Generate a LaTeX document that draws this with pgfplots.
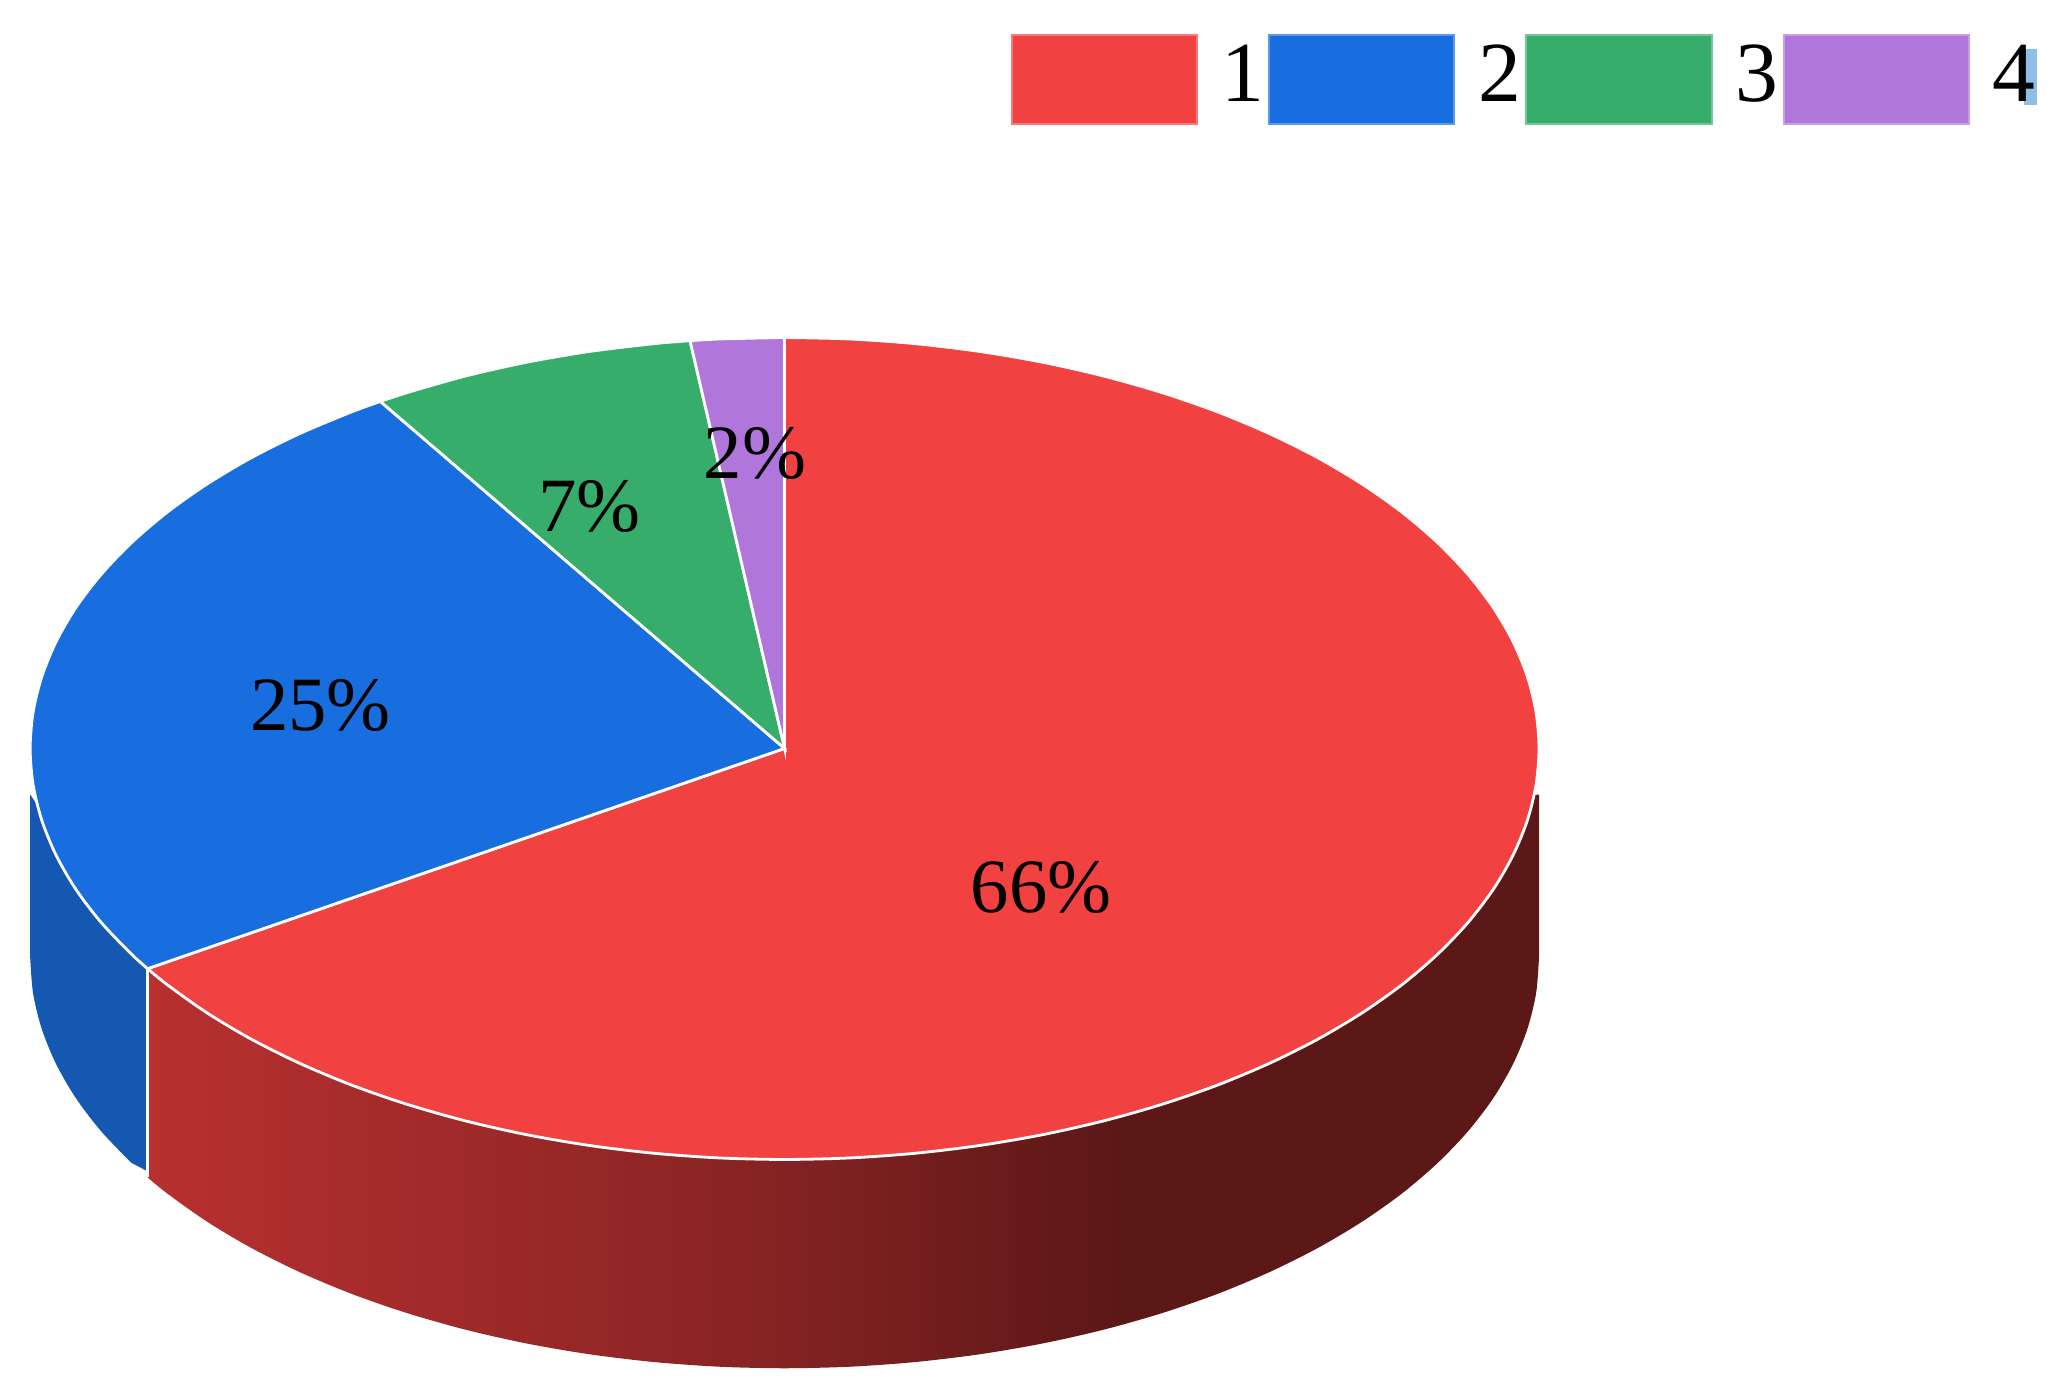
\documentclass[border=0pt]{standalone}
\usepackage{fontspec}
\setmainfont{Liberation Serif}
\usepackage{pgfplots}
\pgfplotsset{compat=1.18}
\definecolor{redc}{HTML}{F24141}
\definecolor{bluec}{HTML}{186EDF}
\definecolor{greenc}{HTML}{36AD6A}
\definecolor{purplec}{HTML}{B076DB}
\definecolor{bluewall}{HTML}{1558B2}
\definecolor{tailc}{HTML}{8FBEE8}
\definecolor{w0}{HTML}{B83030}
\definecolor{w1}{HTML}{8A2424}
\definecolor{w2}{HTML}{5C1717}
% side wall: 25bp..75bp is the width of the path
\pgfdeclarehorizontalshading{redwall}{100bp}{
  color(0bp)=(w0); color(25bp)=(w0); color(46bp)=(w1); color(60bp)=(w2); color(100bp)=(w2)}
\pgfplotsset{
  swatch/.style={legend image code/.code={
    \draw[##1,draw=#1!70!white,line width=0.5pt] (0pt,-11.9pt) rectangle (46.3pt,10.3pt);}},
  face/.style={smooth, fill=#1, draw=white, line width=0.7pt, swatch=#1}}

\begin{document}
\begin{tikzpicture}
\useasboundingbox (0,0) rectangle (514.75pt,346pt);
\begin{axis}[
  at={(0,0)}, anchor=south west, scale only axis,
  width=514.75pt, height=346pt,
  xmin=-1.0400, xmax=1.6893, ymin=-1.5463, ymax=1.8211,
  hide axis, clip=false,
  legend columns=-1,
  legend style={at={(0.491,0.9753)}, anchor=north west, draw=none, fill=none,
    inner sep=0pt, outer sep=0pt, font=\fontsize{21.4}{24}\selectfont,
    nodes={inner sep=0pt, outer sep=0pt},
    /tikz/every odd column/.append style={column sep=5.8pt},
    /tikz/every even column/.append style={column sep=1.0pt}},
]
% bit of a cut-off element behind the 4
\addplot[forget plot, draw=none, fill=tailc] coordinates {
  (1.6423,1.7029) (1.6597,1.7029) (1.6597,1.5655) (1.6423,1.5655)} -- cycle;
% side walls
\addplot[forget plot, smooth, draw=none, fill=bluewall] coordinates {
  (-.8660,-1.0080) (-.9063,-.9306) (-.9397,-.8500)
  (-.9659,-.7668) (-.9848,-.6816) (-.9962,-.5952) (-1,-.508)}
  -- (axis cs:-1,-.112) -- (axis cs:-.8443,-.5358) -- (axis cs:-.8443,-1.0288) -- cycle;
\addplot[forget plot, smooth, draw=none, shade, shading=redwall] coordinates {
  (-.8443,-1.0438) (-.8192,-1.0816) (-.7660,-1.1508)
  (-.7071,-1.2151) (-.6428,-1.2740) (-.5736,-1.3272) (-.5,-1.3740) (-.4226,-1.4143)
  (-.3420,-1.4477) (-.2588,-1.4739) (-.1736,-1.4928) (-.0872,-1.5042) (0,-1.508)
  (.0872,-1.5042) (.1736,-1.4928) (.2588,-1.4739) (.3420,-1.4477) (.4226,-1.4143)
  (.5,-1.3740) (.5736,-1.3272) (.6428,-1.2740) (.7071,-1.2151) (.7660,-1.1508)
  (.8192,-1.0816) (.8660,-1.0080) (.9063,-.9306) (.9397,-.8500) (.9659,-.7668)
  (.9848,-.6816) (.9962,-.5952) (1,-.508)}
  -- (axis cs:1,-.112) -- (axis cs:-.8443,-.5358) -- cycle;
\addplot[forget plot, white, line width=0.7pt] coordinates {(-.8443,-.5358) (-.8443,-1.0438)};
% top face, 66 25 7 2 clockwise from the top
\addplot[face=redc] coordinates {
  (0,1) (.0872,.9962) (.1736,.9848) (.2588,.9659) (.3420,.9397) (.4226,.9063)
  (.5,.8660) (.5736,.8192) (.6428,.7660) (.7071,.7071) (.7660,.6428) (.8192,.5736)
  (.8660,.5) (.9063,.4226) (.9397,.3420) (.9659,.2588) (.9848,.1736) (.9962,.0872)
  (1,0) (.9962,-.0872) (.9848,-.1736) (.9659,-.2588) (.9397,-.3420) (.9063,-.4226)
  (.8660,-.5) (.8192,-.5736) (.7660,-.6428) (.7071,-.7071) (.6428,-.7660) (.5736,-.8192)
  (.5,-.8660) (.4226,-.9063) (.3420,-.9397) (.2588,-.9659) (.1736,-.9848) (.0872,-.9962)
  (0,-1) (-.0872,-.9962) (-.1736,-.9848) (-.2588,-.9659) (-.3420,-.9397) (-.4226,-.9063)
  (-.5,-.8660) (-.5736,-.8192) (-.6428,-.7660) (-.7071,-.7071) (-.7660,-.6428)
  (-.8192,-.5736) (-.8443,-.5358)} -- (axis cs:0,0) -- cycle;
\addlegendentry{1}
\addplot[face=bluec] coordinates {
  (-.8443,-.5358) (-.8660,-.5) (-.9063,-.4226) (-.9397,-.3420) (-.9659,-.2588)
  (-.9848,-.1736) (-.9962,-.0872) (-1,0) (-.9962,.0872) (-.9848,.1736) (-.9659,.2588)
  (-.9397,.3420) (-.9063,.4226) (-.8660,.5) (-.8192,.5736) (-.7660,.6428) (-.7071,.7071)
  (-.6428,.7660) (-.5736,.8192) (-.5358,.8443)} -- (axis cs:0,0) -- cycle;
\addlegendentry{2}
\addplot[face=greenc] coordinates {
  (-.5358,.8443) (-.5,.8660) (-.4226,.9063) (-.3420,.9397) (-.2588,.9659)
  (-.1736,.9848) (-.1253,.9921)} -- (axis cs:0,0) -- cycle;
\addlegendentry{3}
\addplot[face=purplec] coordinates {
  (-.1253,.9921) (-.0872,.9962) (0,1)} -- (axis cs:0,0) -- cycle;
\addlegendentry{4}
% share labels
\addplot[forget plot, draw=none, mark=none, point meta=explicit symbolic,
  nodes near coords={\pgfplotspointmeta\%},
  nodes near coords style={anchor=center, inner sep=0pt, text=black,
    font=\fontsize{19.2}{22}\selectfont}]
  table[meta=share] {
  x y share
  .3403 -.3387 66
  -.6153 .1054 25
  -.2585 .5879 7
  -.0392 .7188 2
};
\end{axis}
\end{tikzpicture}
\end{document}
